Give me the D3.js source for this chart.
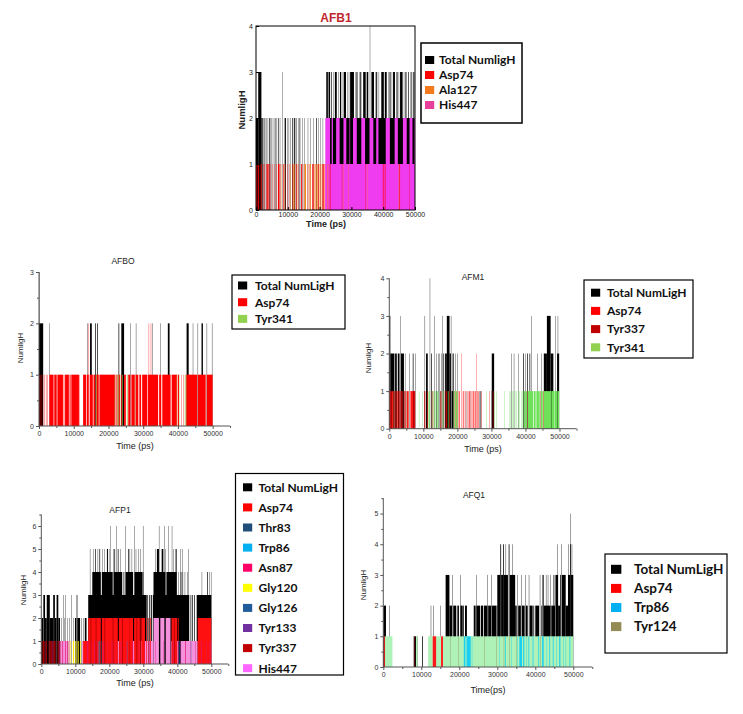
<!DOCTYPE html>
<html><head><meta charset="utf-8">
<script src="https://cdn.jsdelivr.net/npm/d3@7"></script>
<style>body{margin:0;background:#fff}svg{display:block}</style>
</head><body>
<svg id="c" width="743" height="714"></svg>
<script>
// ---------- shared tick labels ----------
const xTicks = [0, 10000, 20000, 30000, 40000, 50000];
const xMinor = [5000, 15000, 25000, 35000, 45000, 55000];

// ---------- AFB1 ----------
const afb1YTicks = [0, 1, 2, 3, 4];
const afb1Total = [[0,700,2],[700,1700,3],[1700,2100,2],[2400,2500,2],[2700,2900,2],[3300,3400,2],[3700,3800,2],[4200,4500,2],[4900,5000,2],[5300,5400,2],[5900,6100,2],[6500,6600,2],[6900,7100,2],[7500,7600,2],[8300,8400,3],[8800,8900,2],[9100,9400,2],[9800,9900,2],[10300,10400,2],[10800,10900,2],[11400,11600,2],[11900,12200,2],[12500,12700,2],[13200,13300,2],[13700,13900,2],[14600,14700,2],[15300,15400,2],[16300,16400,2],[17000,17100,2],[18000,18100,2],[18900,19100,2],[19500,19600,2],[20300,20400,2],[21000,21100,2],
  [22000,50000,2],[22100,22600,3],[22800,23300,3],[23700,23900,3],[24400,24500,3],[24800,25400,3],[25800,25900,3],[26400,26800,3],[27300,27400,3],[27600,28300,3],[28700,28800,3],[29200,29300,3],[29600,30800,3],[31200,31300,3],[31600,31900,3],[32400,32500,3],[32800,33100,3],[33700,34500,3],[34800,35300,3],[35800,35900,4],[36300,37100,3],[37500,37600,3],[37800,38100,3],[38600,38700,3],[39400,40200,3],[40500,41100,3],[41600,41700,3],[42000,42300,3],[42700,42800,3],[43100,43700,3],[44200,44500,3],[44900,45000,3],[45300,46100,3],[46500,46600,3],[47000,47300,3],[47800,48000,3],[48500,48600,3],[48900,49100,3],[49400,49600,3],[49800,49900,3]];
const afb1His447 = [[21800,50000,1],[21800,23300,2],[23800,24200,2],[25200,26300,2],[27500,28400,2],[29400,29600,2],[30500,31700,2],[33100,34300,2],[35700,36900,2],[37800,38500,2],[40800,42100,2],[43600,44600,2],[46200,47400,2],[48300,49200,2],[49800,50000,2]];
const afb1Asp74 = [[0,300,1],[400,500,1],[700,1000,1],[1300,1400,1],[1700,1900,1],[2300,2400,1],[2700,2800,1],[3300,3700,1],[3900,4200,1],[4600,4700,1],[5200,5300,1],[5800,5900,1],[6400,6500,1],[6900,7400,1],[7700,7800,1],[8500,8700,1],[9300,9400,1],[9900,10000,1],[10500,10600,1],[11500,11700,1],[12200,12300,1],[12700,12900,1],[13400,13500,1],[14200,14500,1],[15000,15100,1],[16200,16300,1],[16800,16900,1],[17700,18100,1],[18700,18800,1],[19400,19700,1],[20300,20400,1],[20900,21300,1],[21600,21700,1],[23200,23400,1],[27000,27100,1],[34400,34500,1],[39900,40100,1],[40500,40700,1],[45100,45300,1],[48200,48300,1]];
const afb1Ala127 = [[8000,8100,1],[8900,9000,1],[10900,11000,1],[11800,12100,1],[13000,13100,1],[15300,15700,1],[16600,16700,1],[17100,17300,1],[18400,18600,1],[19000,19300,1],[20000,20200,1],[20600,20700,1],[21400,21500,1],[22500,22700,1],[27400,27500,1],[29100,29200,1],[34900,35000,1],[44900,45000,1]];

// ---------- AFBO ----------
const afboYTicks = [0, 1, 2, 3];
const afboTotal = [[0,1200,2],[150,250,3],[2900,3000,2],[13900,14000,2],[14700,15200,2],[16200,16400,2],[16700,16900,2],[22900,23100,2],[23700,24500,2],[26300,26400,2],[27900,28000,2],[32600,32700,2],[34900,35000,2],[37100,37600,2],[42500,43100,2],[44300,44400,2],[45700,45800,2],[46800,47200,2],[48300,48400,2],[49800,49900,2]];
const afboAsp74 = [[100,200,1],[400,500,1],[700,800,1],[1100,1200,1],[1500,1600,1],[2000,2100,1],[2400,2500,1],[3000,4200,1],[4400,5100,1],[5300,6900,1],[7100,7300,1],[7500,8600,1],[8800,9100,1],[9300,11500,1],[11600,11700,1],[12700,13600,1],[13800,14300,1],[14100,14200,2],[14600,15500,1],[15700,16200,1],[16400,17200,1],[17400,22000,1],[22300,22600,1],[22900,23300,1],[23600,23800,1],[24500,25000,1],[25700,26300,1],[26600,27600,1],[27800,28600,1],[28900,29400,1],[29700,31200,1],[31400,34300,1],[31600,31700,2],[32200,32300,2],[34600,35200,1],[35500,37900,1],[38200,39800,1],[40000,40300,1],[40900,41000,1],[41600,41700,1],[42400,45500,1],[45700,48000,1],[48300,50000,1]];
const afboTyr341 = [[16500,16700,1],[21700,21800,1],[22600,22900,1],[23300,23400,1],[24000,24200,1],[25300,25500,1],[27600,27700,1],[39500,39600,1],[40500,40600,1],[42000,42200,1],[42300,42400,1]];

// ---------- AFM1 ----------
const afm1YTicks = [0, 1, 2, 3, 4];
const afm1Total = [[0,300,3],[300,1500,2],[1700,2200,2],[2500,3000,2],[3200,3300,3],[3400,4300,2],[4600,4700,2],[5900,6000,2],[6900,7100,2],[7700,7800,2],[10400,10500,3],[10800,11300,2],[11900,12000,4],[12300,12500,2],[13300,13400,3],[13800,13900,1],[13900,14000,2],[14500,14700,2],[15200,15300,2],[15500,15600,3],[15900,16100,2],[16400,16900,2],[16900,17700,3],[17700,18100,2],[18100,18200,3],[18300,18800,1],[18600,18900,2],[19300,19400,2],[19900,20000,2],[22500,22600,1],[26400,26500,1],[26800,27000,1],[30100,30300,1],[30100,30800,2],[35900,36000,2],[36600,36700,2],[37900,38000,2],[39300,39500,2],[40000,40100,2],[40500,40700,2],[41200,41400,2],[41800,41900,3],[43400,43500,2],[44600,44700,2],[45400,46300,2],[46300,47400,3],[47400,48100,2],[48100,48200,2],[48700,48800,3],[49300,49900,2],[49500,49600,3]];
const afm1Asp74 = [[0,400,1],[800,1200,1],[1600,1800,1],[2300,2500,1],[3000,3200,1],[3900,4100,1],[4600,4800,1],[5200,5700,1],[6200,7600,1],[10600,10700,1],[12500,12600,1],[15400,15500,1],[16300,16400,1],[19700,19800,1],[20200,20300,1],[20500,20700,1],[21200,21300,2],[21600,21800,1],[21900,22000,1],[22300,22400,1],[22900,23000,1],[23300,23400,1],[23500,23700,1],[24200,24300,1],[24500,24600,1],[24700,24900,1],[25100,25200,1],[25300,25500,1],[25600,25700,2],[25900,26000,1],[26000,26200,1],[27100,27200,1],[29400,29500,1],[30600,30700,1],[40600,40700,1],[45200,45300,1]];
const afm1Tyr337 = [[400,800,1],[1300,1500,1],[1900,2200,1],[2600,2900,1],[3300,3800,1],[4300,4500,1],[5000,5100,1],[7000,7400,1],[10200,10400,1],[11100,11300,1],[12800,12900,1],[14900,15100,1],[16600,17000,1],[17600,17800,1],[19000,19100,1],[23800,23900,1],[30300,30400,1],[44300,44400,1]];
const afm1Tyr341 = [[1200,1300,1],[2200,2300,1],[5100,5200,1],[8700,8800,1],[9800,9900,1],[11300,11500,1],[11700,11900,1],[12600,12800,1],[13100,13300,1],[13600,13800,1],[14100,14400,1],[15100,15200,1],[15700,15900,1],[17200,17400,1],[18900,19000,1],[19200,19800,1],[20000,20200,1],[28500,28600,1],[30800,30900,1],[31500,31600,1],[33800,33900,1],[35200,35300,1],[35600,35700,1],[36100,36200,1],[36400,36500,1],[36900,37000,1],[37300,37400,1],[37800,37900,1],[38300,38400,1],[38700,38800,1],[39100,39200,1],[39500,40000,1],[40100,40500,1],[40700,42300,1],[42500,43000,1],[43200,44200,1],[44500,45100,1],[45300,47500,1],[47600,48400,1],[48500,49300,1],[49400,49900,1]];

// ---------- AFP1 ----------
const afp1YTicks = [0, 1, 2, 3, 4, 5, 6];
const afp1Total = [[0,500,2],[600,1100,3],[1100,1600,2],[1600,2500,3],[2500,3500,2],[3500,4000,3],[4000,4500,2],[4500,5000,3],[5000,5500,2],[5900,6000,2],[6400,6500,3],[6800,6900,2],[7100,7200,3],[7600,7700,2],[8300,8400,2],[8800,8900,3],[9500,9600,2],[9900,10300,2],[10400,10600,3],[10600,11400,2],[11800,11900,2],[12300,12400,2],[12800,13300,2],
  [13800,31000,3],[31200,31400,3],[31700,31900,3],[32200,32500,3],[32800,43500,3],[43900,44100,3],[44400,44600,3],[45000,45200,3],[45700,50000,3],
  [15000,17500,4],[17800,21000,4],[21300,23800,4],[24200,24400,4],[24800,27000,4],[27400,29800,4],[30100,30200,4],[33000,36500,4],[36800,39800,4],[40400,40500,4],[41000,41200,4],[41600,41700,4],[42200,42300,4],[43000,43100,4],[47200,47300,4],[48800,49000,4],[49500,49600,4],[49900,50000,4],
  [14300,14400,5],[15200,15300,5],[15800,16000,5],[16600,16700,5],[17100,17300,5],[17900,18000,5],[18500,18600,5],[19300,19600,5],[19900,20000,5],[21100,21200,5],[21500,21700,5],[22500,22700,5],[23200,23300,5],[25500,25700,5],[26000,26100,5],[26600,26700,5],[27800,27900,5],[28600,28700,5],[29200,29300,5],[33600,33700,5],[34000,34600,5],[35400,35900,5],[36500,36600,5],[38900,39000,5],[39500,39800,5],[40800,40900,5],[41400,41500,5],[43300,43400,5],
  [20400,20500,6],[22000,22100,6],[24800,24900,6],[27300,27400,6],[29900,30000,6],[34600,34700,6],[36100,36200,6],[37300,37400,6],[38400,38500,6]];
const afp1Asp74 = [[200,300,1],[1000,1100,1],[2200,2400,1],[4600,4700,1],[12300,14000,1],[13800,17500,2],[17800,22500,2],[22800,27000,2],[27300,29000,2],[29400,30500,2],[30900,31100,2],[32000,32200,2],[38300,40000,2],[40200,40400,2],[46000,50000,2]];
const afp1Thr83 = [[17200,17300,1],[17600,17700,1]];
const afp1Trp86 = [[16900,17100,1],[40600,40700,1]];
const afp1Asn87 = [[1200,1300,1],[3300,3500,1],[5200,5400,1],[6200,6400,1],[7000,7200,1],[7600,7800,1],[13500,13800,1],[14800,14900,1],[15500,15700,1],[16400,16500,1],[18200,18400,1],[19500,19600,1],[20700,20900,1],[21800,21900,1],[23300,23500,1],[24900,25000,1],[26800,27000,1],[28500,28600,1],[30200,30300,1],[31800,32000,1],[33500,33600,1],[35800,35900,1],[38700,38900,1],[40900,41000,1],[42300,42500,1],[43800,43900,1],[45400,45500,1],[47000,47200,1],[48600,48700,1],[49500,49700,1]];
const afp1Gly120 = [[8400,8600,1],[9300,9600,1],[10000,10300,1],[10700,11000,1],[11400,11600,1]];
const afp1Gly126 = [[25300,25400,1],[44000,44100,1]];
const afp1Tyr133 = [[40300,40500,1],[41000,41100,1]];
const afp1Tyr337 = [[0,200,1],[500,900,1],[1400,1700,1],[2600,3200,1],[3600,4200,1],[4900,5100,1],[5600,5700,1],[8000,8100,1],[14500,14700,2],[16000,16200,2],[18600,18800,2],[21000,21200,2],[23800,24000,2],[26000,26100,2],[28000,28200,2],[29000,29300,2],[31500,31700,2],[39000,39200,2]];
const afp1His447 = [[5500,7800,1],[8200,8500,1],[12000,12300,1],[14000,16800,1],[17800,22000,1],[22400,26000,1],[26300,30000,1],[30400,33000,1],[33000,34600,2],[35000,36200,2],[36600,38000,2],[38200,40200,1],[41000,46000,1],[46200,50000,1]];

// ---------- AFQ1 ----------
const afq1YTicks = [0, 1, 2, 3, 4, 5];
const afq1Total = [[0,700,2],[1600,1700,2],[8000,8600,1],[9000,9100,1],[10200,10400,1],[12500,12600,2],[13200,13300,2],[15000,15100,2],[16400,17400,3],[17400,18100,2],[18200,18300,3],[18400,19200,2],[19500,19900,2],[20200,20300,3],[20300,20900,2],[21000,21200,2],[21500,22000,2],[23800,24300,2],[24400,24500,3],[24500,25500,2],[25700,26300,2],[26500,27400,2],[27400,27500,3],[27600,28400,2],[28400,28500,3],[28600,29700,2],[29800,30000,2],[30000,30800,3],[30800,31000,4],[31000,31600,3],[31500,31700,4],[31700,32800,3],[32200,32300,4],[33000,33200,4],[33300,34700,3],[34000,34100,4],[34700,35100,2],[35200,35300,3],[35500,36200,2],[36300,36400,3],[36500,37200,2],[37300,37400,3],[37500,38000,2],[38300,38400,3],[38500,39300,2],[39500,39700,2],[40000,41000,2],[41200,41300,3],[41600,41800,2],[41900,42200,3],[42200,44000,2],[42800,42900,3],[43300,43400,3],[44000,44100,3],[44200,45200,2],[44800,45000,3],[45300,46000,3],[45800,45900,4],[46000,46500,2],[46500,46700,3],[46800,46900,4],[47000,48000,3],[48000,48600,2],[48600,49200,3],[48700,48800,4],[49200,49400,4],[49300,49400,5],[49400,50000,3],[49600,49700,4]];
const afq1Base = [[400,2400,1],[8600,9000,1],[11800,13000,1],[13900,15200,1],[15700,50000,1]];
const afq1Asp74 = [[0,400,1],[8100,8200,1],[13000,13900,1],[15200,15700,1]];
const afq1Trp86 = [[21200,21600,1],[21900,23000,1],[23300,23400,1],[30600,30700,1],[32000,32200,1],[33600,33700,1],[35200,35300,1],[35800,36500,1],[36800,37100,1],[37700,37800,1],[38200,38400,1],[39300,39500,1],[40800,41000,1],[41800,42200,1],[43000,43100,1],[43700,43900,1],[44600,44800,1],[45500,45600,1],[46300,46600,1],[47300,47400,1],[48000,48100,1],[49000,49200,1]];
const afq1Tyr124 = [[17600,17700,1],[19800,19900,1],[26500,26600,1],[29800,29900,1],[31700,31800,1],[33100,33200,1],[35000,35100,1],[41300,41400,1]];

// ---------- drawing ----------
const svg = d3.select('#c');
const FONT = 'Liberation Sans, Arial, sans-serif';
const LFONT = 'Lato, Liberation Sans, sans-serif';
const intFmt = d3.format('d');

function drawBars(g, x, y, series) {
  series.forEach(s => {
    g.append('g').selectAll('rect').data(s.runs).join('rect')
      .attr('x', d => x(d[0]))
      .attr('width', d => Math.max(x(d[1]) - x(d[0]), 0.3))
      .attr('y', d => y(d[2]))
      .attr('height', d => y(0) - y(d[2]))
      .attr('fill', s.color);
  });
}

function legend(L) {
  const g = svg.append('g');
  g.append('rect').attr('x', L.x).attr('y', L.y).attr('width', L.w).attr('height', L.h)
    .attr('fill', '#fff').attr('stroke', '#000').attr('stroke-width', L.sw || 1.2);
  L.items.forEach((it, i) => {
    const cy = L.first + i * L.step;
    g.append('rect').attr('x', L.sx).attr('y', cy - L.ss / 2).attr('width', L.ss * 1.15).attr('height', L.ss).attr('fill', it[1]);
    g.append('text').attr('x', L.tx).attr('y', cy).attr('dy', '0.36em')
      .attr('font-family', LFONT).attr('font-weight', 'bold').attr('font-size', L.fs).attr('fill', '#111').text(it[0]);
  });
}

function originPanel(p) {
  const g = svg.append('g');
  const x = d3.scaleLinear().domain([0, 55000]).range([p.x0, p.x1]);
  const y = d3.scaleLinear().domain([0, p.yMax]).range([p.y0, p.y1]);
  drawBars(g, x, y, p.series);
  g.append('g').attr('transform', `translate(0,${p.y0})`)
    .call(d3.axisBottom(x).tickValues(xTicks).tickSize(3).tickPadding(2).tickFormat(intFmt));
  g.append('g').attr('transform', `translate(0,${p.y0})`)
    .call(d3.axisBottom(x).tickValues(xMinor).tickSize(2).tickFormat(''));
  g.append('g').attr('transform', `translate(${p.x0},0)`)
    .call(d3.axisLeft(y).tickValues(p.yTicks).tickSize(3).tickPadding(2).tickFormat(intFmt));
  g.append('g').attr('transform', `translate(${p.x0},0)`)
    .call(d3.axisLeft(y).tickValues(p.yTicks.map(v => v + 0.5).filter(v => v <= p.yMax)).tickSize(2).tickFormat(''));
  g.selectAll('.domain').remove();
  g.selectAll('.tick line').attr('stroke', '#555');
  g.append('line').attr('x1', p.x0).attr('x2', p.x1).attr('y1', p.y0).attr('y2', p.y0).attr('stroke', '#555');
  g.append('line').attr('x1', p.x0).attr('x2', p.x0).attr('y1', p.y0).attr('y2', p.y1).attr('stroke', '#555');
  g.selectAll('.tick text').attr('font-family', FONT).attr('font-size', 7).attr('fill', '#333');
  g.append('text').attr('x', p.tx).attr('y', p.ty).attr('text-anchor', 'middle').attr('dy', '0.35em')
    .attr('font-family', FONT).attr('font-size', 8.5).attr('fill', '#222').text(p.title);
  g.append('text').attr('x', p.xlx).attr('y', p.xly).attr('text-anchor', 'middle').attr('dy', '0.35em')
    .attr('font-family', FONT).attr('font-size', 9).attr('fill', '#222').text(p.xlabel);
  g.append('text').attr('transform', `translate(${p.ylx},${p.yly}) rotate(-90)`).attr('text-anchor', 'middle').attr('dy', '0.35em')
    .attr('font-family', FONT).attr('font-size', 8).attr('fill', '#222').text('NumligH');
}

// ---- AFB1 (boxed) ----
(function () {
  const g = svg.append('g');
  const x = d3.scaleLinear().domain([0, 50000]).range([256, 415]);
  const y = d3.scaleLinear().domain([0, 4]).range([210, 26]);
  drawBars(g, x, y, [
    {runs: afb1Total, color: '#000'},
    {runs: afb1His447, color: '#ef3cef'},
    {runs: afb1Asp74, color: '#ff0000'},
    {runs: afb1Ala127, color: '#ff8000'}
  ]);
  g.append('rect').attr('x', 256).attr('y', 26).attr('width', 159).attr('height', 184)
    .attr('fill', 'none').attr('stroke', '#000').attr('stroke-width', 1);
  g.append('g').attr('transform', 'translate(0,210)')
    .call(d3.axisBottom(x).tickValues(xTicks).tickSize(-3).tickPadding(2).tickFormat(intFmt));
  g.append('g').attr('transform', 'translate(256,0)')
    .call(d3.axisLeft(y).tickValues(afb1YTicks).tickSize(-3).tickPadding(3).tickFormat(intFmt));
  g.selectAll('.domain').remove();
  g.selectAll('.tick text').attr('font-family', FONT).attr('font-size', 7).attr('fill', '#222');
  g.append('text').attr('x', 336).attr('y', 18).attr('dy', '0.35em').attr('text-anchor', 'middle')
    .attr('font-family', FONT).attr('font-weight', 'bold').attr('font-size', 12).attr('fill', '#c0272d').text('AFB1');
  g.append('text').attr('x', 326).attr('y', 224).attr('dy', '0.35em').attr('text-anchor', 'middle')
    .attr('font-family', FONT).attr('font-weight', 'bold').attr('font-size', 9).attr('fill', '#222').text('Time (ps)');
  g.append('text').attr('transform', 'translate(242,110) rotate(-90)').attr('dy', '0.35em').attr('text-anchor', 'middle')
    .attr('font-family', FONT).attr('font-weight', 'bold').attr('font-size', 9.5).attr('fill', '#222').text('NumligH');
})();
legend({x: 421, y: 43, w: 101, h: 80, sw: 1.5, first: 60, step: 15, sx: 425, ss: 8, tx: 439, fs: 12,
  items: [['Total NumligH', '#000'], ['Asp74', '#ff0000'], ['Ala127', '#f47a20'], ['His447', '#e83e9c']]});

// ---- AFBO ----
originPanel({x0: 39, x1: 230, y0: 426, y1: 272, yMax: 3, yTicks: afboYTicks, title: 'AFBO', tx: 123, ty: 261,
  xlabel: 'Time (ps)', xlx: 135, xly: 446, ylx: 20, yly: 348,
  series: [{runs: afboTotal, color: '#000'}, {runs: afboAsp74, color: '#ff0000'}, {runs: afboTyr341, color: '#a0b040'}]});
legend({x: 232, y: 275, w: 113, h: 54, first: 285.5, step: 16.7, sx: 238, ss: 8, tx: 255, fs: 12,
  items: [['Total NumLigH', '#000'], ['Asp74', '#ff0000'], ['Tyr341', '#92d050']]});

// ---- AFM1 ----
originPanel({x0: 389.3, x1: 576.5, y0: 428.7, y1: 278.3, yMax: 4, yTicks: afm1YTicks, title: 'AFM1', tx: 473, ty: 277,
  xlabel: 'Time (ps)', xlx: 483, xly: 449, ylx: 368, yly: 358,
  series: [{runs: afm1Total, color: '#000'}, {runs: afm1Tyr341, color: '#6fe05a'}, {runs: afm1Asp74, color: '#ff1a1a'}, {runs: afm1Tyr337, color: '#b00000'}]});
legend({x: 584, y: 280, w: 109, h: 78, first: 292.7, step: 18.2, sx: 591, ss: 8, tx: 607, fs: 12,
  items: [['Total NumLigH', '#000'], ['Asp74', '#ff0000'], ['Tyr337', '#c00000'], ['Tyr341', '#92d050']]});

// ---- AFP1 ----
originPanel({x0: 41.3, x1: 228.3, y0: 664, y1: 514.5, yMax: 6.5, yTicks: afp1YTicks, title: 'AFP1', tx: 120, ty: 510,
  xlabel: 'Time (ps)', xlx: 135, xly: 683, ylx: 22.7, yly: 590,
  series: [{runs: afp1Total, color: '#000'}, {runs: afp1His447, color: '#f590dc'}, {runs: afp1Asp74, color: '#ff1010'},
    {runs: afp1Tyr337, color: '#a00000'}, {runs: afp1Asn87, color: '#e0156e'}, {runs: afp1Gly120, color: '#ffee00'},
    {runs: afp1Trp86, color: '#00b0f0'}, {runs: afp1Thr83, color: '#1f4e79'}, {runs: afp1Gly126, color: '#2e75b6'}, {runs: afp1Tyr133, color: '#7030a0'}]});
legend({x: 235.5, y: 473.5, w: 108, h: 201.5, first: 487.3, step: 20.1, sx: 243, ss: 8, tx: 258.5, fs: 12,
  items: [['Total NumLigH', '#000'], ['Asp74', '#ff0000'], ['Thr83', '#1f4e79'], ['Trp86', '#00b0f0'], ['Asn87', '#ff0066'],
    ['Gly120', '#ffff00'], ['Gly126', '#1f5c99'], ['Tyr133', '#7030a0'], ['Tyr337', '#c00000'], ['His447', '#ff66ff']]});

// ---- AFQ1 ----
originPanel({x0: 383.3, x1: 592.3, y0: 667, y1: 498.2, yMax: 5.5, yTicks: afq1YTicks, title: 'AFQ1', tx: 474, ty: 495,
  xlabel: 'Time(ps)', xlx: 488, xly: 690, ylx: 362.7, yly: 585,
  series: [{runs: afq1Total, color: '#000'}, {runs: afq1Base, color: '#aef2b8'}, {runs: afq1Asp74, color: '#ff1a1a'},
    {runs: afq1Trp86, color: '#1ad0f0'}, {runs: afq1Tyr124, color: '#948a54'}]});
legend({x: 605, y: 554, w: 122, h: 99, first: 569.3, step: 19.1, sx: 611, ss: 9, tx: 634, fs: 13.5,
  items: [['Total NumLigH', '#000'], ['Asp74', '#ff0000'], ['Trp86', '#00b0f0'], ['Tyr124', '#948a54']]});
</script>
</body></html>
